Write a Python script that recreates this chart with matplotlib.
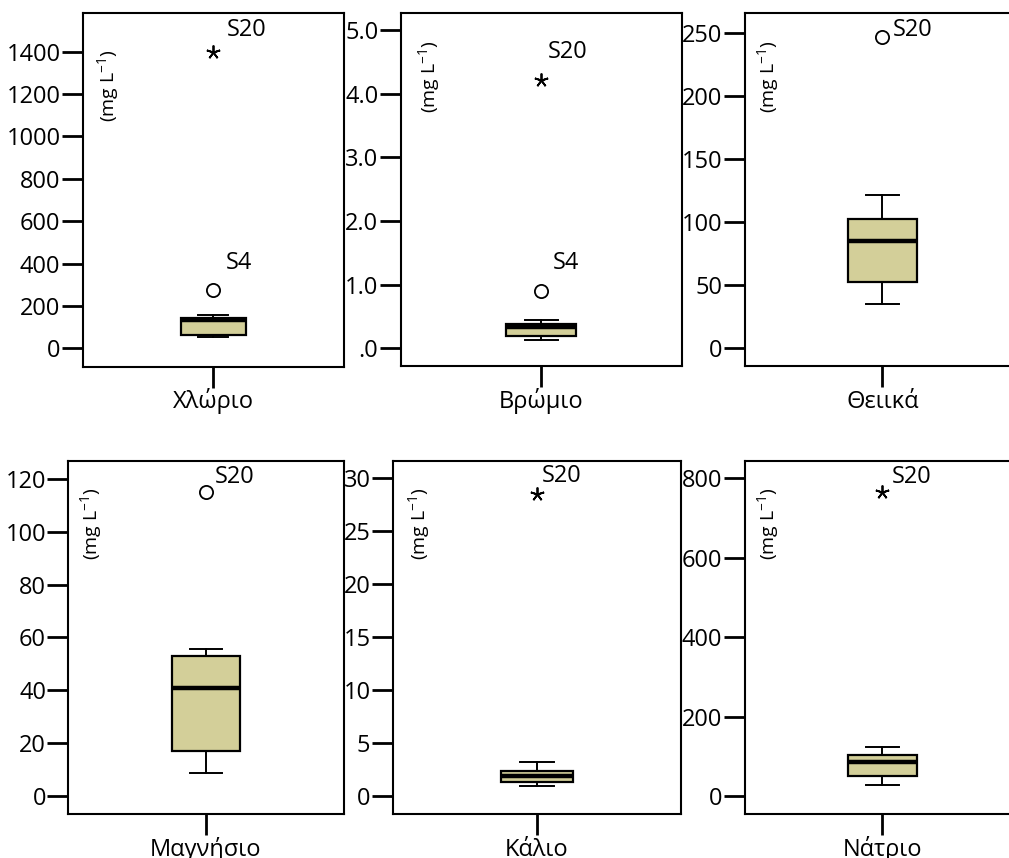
import matplotlib
matplotlib.use("Agg")
import matplotlib.pyplot as plt

plt.rcParams["font.family"] = ["Open Sans", "DejaVu Sans"]
plt.rcParams["mathtext.default"] = "regular"

# data (mg L-1)
names = ["Χλώριο", "Βρώμιο", "Θειικά", "Μαγνήσιο", "Κάλιο", "Νάτριο"]
q1 = [63, 0.20, 53, 17, 1.3, 50]
med = [132, 0.33, 85, 41, 1.9, 86]
q3 = [141, 0.38, 103, 53, 2.4, 103]
whislo = [52, 0.13, 35, 8.6, 0.9, 28]
whishi = [159, 0.45, 122, 55.5, 3.2, 124]
extreme_vals = [1400, 4.22, None, None, 28.5, 766]
extreme_labels = ["S20", "S20", None, None, "S20", "S20"]
mild_vals = [275, 0.90, 247, 115, None, None]
mild_labels = ["S4", "S4", "S20", "S20", None, None]
ytick_vals = [
    [0, 200, 400, 600, 800, 1000, 1200, 1400],
    [0, 1, 2, 3, 4, 5],
    [0, 50, 100, 150, 200, 250],
    [0, 20, 40, 60, 80, 100, 120],
    [0, 5, 10, 15, 20, 25, 30],
    [0, 200, 400, 600, 800],
]
ytick_text = [
    ["0", "200", "400", "600", "800", "1000", "1200", "1400"],
    [".0", "1.0", "2.0", "3.0", "4.0", "5.0"],
    ["0", "50", "100", "150", "200", "250"],
    ["0", "20", "40", "60", "80", "100", "120"],
    ["0", "5", "10", "15", "20", "25", "30"],
    ["0", "200", "400", "600", "800"],
]
unit = "(mg L$^{-1}$)"

# layout (pixels)
W, H = 1009, 858
frames = [
    (82.7, 13.3, 343.5, 366.7),
    (400.7, 13.3, 681.5, 366.0),
    (744.7, 13.3, 1020.0, 366.0),
    (68.3, 460.7, 343.7, 814.0),
    (392.7, 460.7, 681.3, 814.0),
    (744.7, 460.7, 1020.0, 814.0),
]
ylims = [(-87, 1581), (-0.278, 5.26), (-14, 266), (-6.8, 126.9), (-1.7, 31.66), (-45, 844)]
ext_off = [(14, 22), (7, 28), None, None, (5, 18), (9, 15)]
mild_off = [(13, 27), (12, 28), (10, 7), (9, 15), None, None]
unit_off = [(25, -72), (28, -63), (23, -63), (23, -63), (26, -63), (23, -63)]

box_color = "#D3CF99"
fs = 17

fig = plt.figure(figsize=(W / 100, H / 100), dpi=100)

for i in range(6):
    l, t, r, b = frames[i]
    ax = fig.add_axes([l / W, 1 - b / H, (r - l) / W, (b - t) / H])
    stats = dict(med=med[i], q1=q1[i], q3=q3[i], whislo=whislo[i], whishi=whishi[i], fliers=[])
    ax.bxp([stats], positions=[0], widths=1.0, capwidths=0.47, patch_artist=True,
           showfliers=False,
           boxprops=dict(facecolor=box_color, edgecolor="black", linewidth=1.6),
           medianprops=dict(color="black", linewidth=3.2),
           whiskerprops=dict(color="black", linewidth=1.4),
           capprops=dict(color="black", linewidth=1.4))

    if extreme_vals[i] is not None:
        ax.plot([0], [extreme_vals[i]], linestyle="none", marker=(5, 2, 0),
                markersize=10, markeredgewidth=1.3, color="black")
        ax.annotate(extreme_labels[i], xy=(0, extreme_vals[i]), xytext=ext_off[i],
                    textcoords="offset pixels", ha="left", va="center", fontsize=fs)
    if mild_vals[i] is not None:
        ax.plot([0], [mild_vals[i]], linestyle="none", marker="o", markersize=9.5,
                markerfacecolor="none", markeredgecolor="black", markeredgewidth=1.3)
        ax.annotate(mild_labels[i], xy=(0, mild_vals[i]), xytext=mild_off[i],
                    textcoords="offset pixels", ha="left", va="center", fontsize=fs)

    ax.annotate(unit, xy=(0, 1), xycoords="axes fraction", xytext=unit_off[i],
                textcoords="offset pixels", rotation=90, ha="center", va="center",
                fontsize=14)

    ax.set_xlim(-2, 2)
    ax.set_ylim(*ylims[i])
    ax.set_yticks(ytick_vals[i], ytick_text[i])
    ax.set_xticks([0], [names[i]])
    ax.tick_params(axis="y", length=15, width=2, pad=1, labelsize=fs)
    ax.tick_params(axis="x", length=15, width=2, pad=15, labelsize=fs)
    for lab in ax.get_xticklabels():
        lab.set_verticalalignment("baseline")
    for s in ax.spines.values():
        s.set_linewidth(1.5)

fig.savefig("out.png", dpi=100)
